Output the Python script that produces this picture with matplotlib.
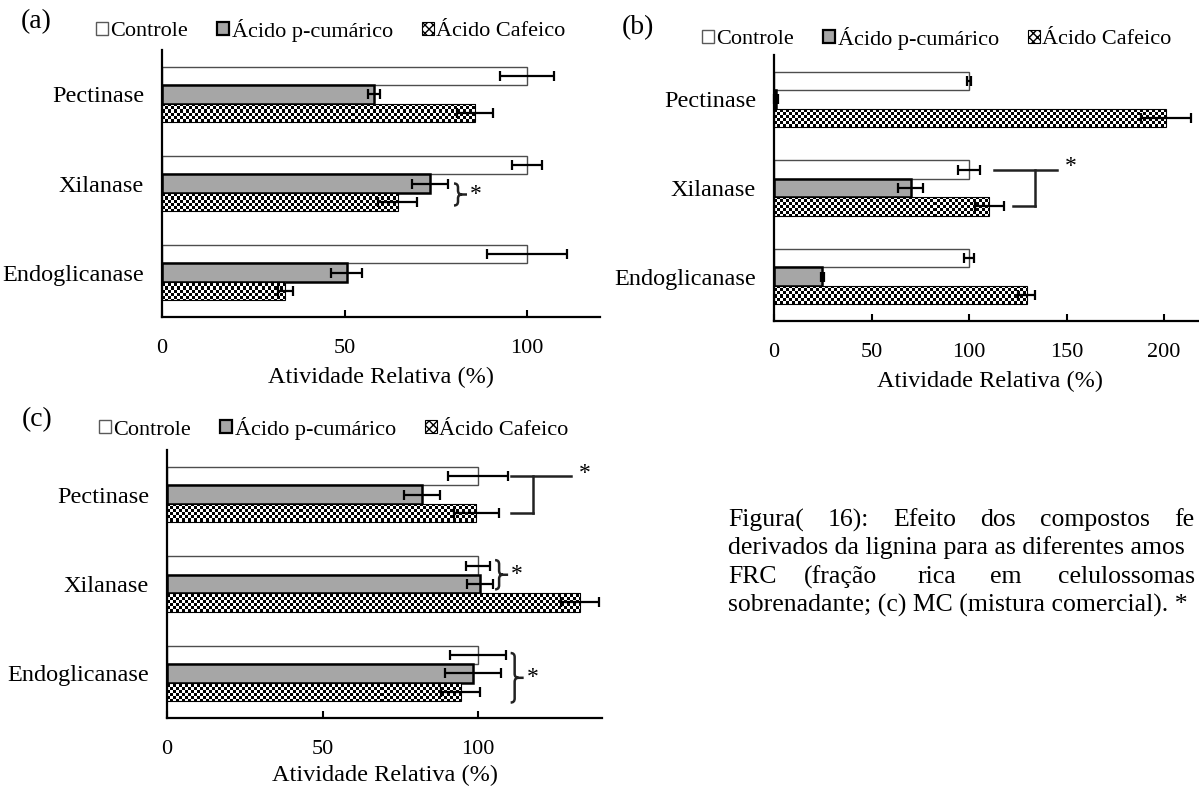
import numpy as np
import matplotlib
matplotlib.use('Agg')
import matplotlib.pyplot as plt
from matplotlib.patches import Patch, PathPatch
from matplotlib.path import Path

plt.rcParams['font.family'] = ['Liberation Serif', 'DejaVu Serif']

# enzymes, bottom to top
enzimas = ['Endoglicanase', 'Xilanase', 'Pectinase']
series = ['Controle', 'Ácido p-cumárico', 'Ácido Cafeico']

# (a)
controle_a = [100, 100, 100]
controle_a_err = [11.0, 4.2, 7.3]
pcum_a = [50.6, 73.4, 58.0]
pcum_a_err = [4.2, 5.0, 1.6]
cafeico_a = [33.8, 64.6, 85.8]
cafeico_a_err = [2.0, 5.3, 5.0]

# (b)
controle_b = [100, 100, 100]
controle_b_err = [2.5, 5.5, 1.0]
pcum_b = [24.7, 70.2, 1.0]
pcum_b_err = [0.8, 6.4, 0.8]
cafeico_b = [129.6, 110.4, 201.0]
cafeico_b_err = [4.3, 7.5, 13.0]

# (c)
controle_c = [100, 100, 100]
controle_c_err = [9.0, 3.7, 9.5]
pcum_c = [98.4, 100.6, 82.0]
pcum_c_err = [9.0, 4.2, 5.7]
cafeico_c = [94.4, 132.8, 99.4]
cafeico_c_err = [6.2, 6.0, 7.2]

W, H = 1199, 789
fig = plt.figure(figsize=(W / 100, H / 100), dpi=100)

bar_h = 0.207
offsets = [bar_h, 0.0, -bar_h]


def px_axes(left, top, right, bottom):
    return fig.add_axes([left / W, 1 - bottom / H, (right - left) / W, (bottom - top) / H])


def checker_fill(ax, bars):
    # small checkerboard (one image pixel per screen pixel), clipped to each bar
    bb = ax.get_window_extent()
    nx, ny = int(round(bb.width)), int(round(bb.height))
    jj, ii = np.meshgrid(np.arange(nx), np.arange(ny))
    board = ((ii // 3 + jj // 3) % 2).astype(float)
    for b in bars:
        im = ax.imshow(board, cmap='gray', vmin=0, vmax=1, extent=(*ax.get_xlim(), *ax.get_ylim()),
                       aspect='auto', interpolation='nearest', zorder=2.2)
        im.set_clip_path(b)


def brace(ax, x, y0, y1, r=4, tail=5):
    # right-facing curly brace from y0 to y1 (data), r in pixels
    to_disp = ax.transData
    X0, Y0 = to_disp.transform((x, y0))
    _, Y1 = to_disp.transform((x, y1))
    Ym = (Y0 + Y1) / 2
    verts = [(X0, Y1), (X0 + r, Y1), (X0 + r, Y1 - r),
             (X0 + r, Ym + r), (X0 + r, Ym), (X0 + 2 * r, Ym),
             (X0 + r, Ym), (X0 + r, Ym - r),
             (X0 + r, Y0 + r), (X0 + r, Y0), (X0, Y0),
             (X0 + 2 * r, Ym), (X0 + 2 * r + tail, Ym)]
    codes = [Path.MOVETO, Path.CURVE3, Path.CURVE3,
             Path.LINETO, Path.CURVE3, Path.CURVE3,
             Path.CURVE3, Path.CURVE3,
             Path.LINETO, Path.CURVE3, Path.CURVE3,
             Path.MOVETO, Path.LINETO]
    verts = to_disp.inverted().transform(verts)
    ax.add_patch(PathPatch(Path(verts, codes), facecolor='none', edgecolor='#222222',
                           lw=1.8, zorder=4, clip_on=False))
    return to_disp.inverted().transform((X0 + 2 * r + tail, Ym))


def draw_panel(ax, xmax, ctrl, ctrl_e, pc, pc_e, caf, caf_e, xticks, labelpad=6):
    y = np.arange(len(enzimas))
    ax.set_xlim(0, xmax)
    ax.set_ylim(-0.5, len(enzimas) - 0.5)
    ax.barh(y + offsets[0], ctrl, height=bar_h, color='white', edgecolor='#4d4d4d', lw=1.0, zorder=2)
    ax.barh(y + offsets[1], pc, height=bar_h, color='#a6a6a6', edgecolor='black', lw=1.8, zorder=2)
    cb = ax.barh(y + offsets[2], caf, height=bar_h, color='white', edgecolor='none', zorder=2)
    checker_fill(ax, cb.patches)
    ax.barh(y + offsets[2], caf, height=bar_h, fill=False, edgecolor='black', lw=0.8, zorder=2.5)
    for vals, errs, off in [(ctrl, ctrl_e, offsets[0]), (pc, pc_e, offsets[1]), (caf, caf_e, offsets[2])]:
        ax.errorbar(vals, y + off, xerr=errs, fmt='none', ecolor='black', elinewidth=1.6,
                    capsize=3.8, capthick=1.6, zorder=3, clip_on=False)
    ax.set_yticks(y)
    ax.set_yticklabels(enzimas, fontsize=17.5)
    ax.set_xticks(xticks)
    ax.set_xticklabels([str(t) for t in xticks], fontsize=16)
    ax.tick_params(axis='y', length=0, pad=13)
    ax.tick_params(axis='x', direction='in', length=5, width=1.5, pad=16)
    for s in ['top', 'right']:
        ax.spines[s].set_visible(False)
    for s in ['left', 'bottom']:
        ax.spines[s].set_linewidth(1.6)
    ax.set_xlabel('Atividade Relativa (%)', fontsize=17.5, labelpad=labelpad)
    ax.patch.set_alpha(0)


ax_a = px_axes(162, 50, 600, 317)
draw_panel(ax_a, 120, controle_a, controle_a_err, pcum_a, pcum_a_err, cafeico_a, cafeico_a_err, [0, 50, 100])

ax_b = px_axes(774, 55, 774 + 222 * 1.95, 321)
draw_panel(ax_b, 222, controle_b, controle_b_err, pcum_b, pcum_b_err, cafeico_b, cafeico_b_err,
           [0, 50, 100, 150, 200])

ax_c = px_axes(167, 450, 167 + 140 * 3.11, 718)
draw_panel(ax_c, 140, controle_c, controle_c_err, pcum_c, pcum_c_err, cafeico_c, cafeico_c_err, [0, 50, 100],
           labelpad=4)

# significance marks
star_kw = dict(fontsize=17, ha='left', va='center', zorder=5)
xa, ya = brace(ax_a, 80, 1 + offsets[2] - 0.04, 1 + offsets[1] + 0.0)
ax_a.text(xa + 0.8, ya, '*', **star_kw)

lk = dict(color='#222222', lw=1.8, zorder=4, clip_on=False)
yb_top, yb_bot = 1 + offsets[0], 1 + offsets[2]
ax_b.plot([113, 145], [yb_top, yb_top], **lk)
ax_b.plot([134, 134], [yb_top, yb_bot], **lk)
ax_b.plot([122.5, 134], [yb_bot, yb_bot], **lk)
ax_b.text(149, yb_top + 0.03, '*', **star_kw)

yc_top, yc_bot = 2 + offsets[0], 2 + offsets[2]
ax_c.plot([110.5, 130], [yc_top, yc_top], **lk)
ax_c.plot([117.7, 117.7], [yc_top, yc_bot], **lk)
ax_c.plot([110.5, 117.7], [yc_bot, yc_bot], **lk)
ax_c.text(132.5, yc_top + 0.03, '*', **star_kw)

xc, yc = brace(ax_c, 105.5, 1 + offsets[1] - 0.06, 1 + offsets[0] + 0.06)
ax_c.text(xc + 1.0, yc, '*', **star_kw)
xc, yc = brace(ax_c, 110.5, offsets[2] - 0.12, offsets[0] + 0.02)
ax_c.text(xc + 1.0, yc, '*', **star_kw)

# legends and panel letters
handles = [Patch(facecolor='white', edgecolor='#595959', lw=1.0),
           Patch(facecolor='#a6a6a6', edgecolor='black', lw=1.6),
           Patch(facecolor='white', edgecolor='black', hatch='xxxx', lw=0.8)]
for lx, ly in [(96, 30), (702, 38), (99, 428)]:
    fig.legend(handles, series, loc='center left', bbox_to_anchor=(lx / W, 1 - ly / H), ncol=3,
               frameon=False, fontsize=16, handlelength=0.55, handleheight=0.55, handletextpad=0.1,
               columnspacing=1.3, borderpad=0, borderaxespad=0)
for lbl, lx, ly in [('(a)', 36, 22), ('(b)', 638, 28), ('(c)', 37, 420)]:
    fig.text(lx / W, 1 - ly / H, lbl, fontsize=20, ha='center', va='center')

# figure caption (justified lines, clipped on the right)
cap_kw = dict(fontsize=18.5, va='center', ha='left')
line1 = [('Figura(', 728), ('16):', 828), ('Efeito', 893), ('dos', 980), ('compostos', 1040), ('fe', 1174)]
for w, x in line1:
    fig.text(x / W, 1 - 520 / H, w, **cap_kw)
fig.text(728 / W, 1 - 548 / H, 'derivados da lignina para as diferentes amos', **cap_kw)
line3 = [('FRC', 728), ('(fração', 804), ('rica', 917), ('em', 990), ('celulossomas', 1058)]
for w, x in line3:
    fig.text(x / W, 1 - 577 / H, w, **cap_kw)
fig.text(728 / W, 1 - 605 / H, 'sobrenadante; (c) MC (mistura comercial). *', **cap_kw)

fig.savefig('out.png', dpi=100)
